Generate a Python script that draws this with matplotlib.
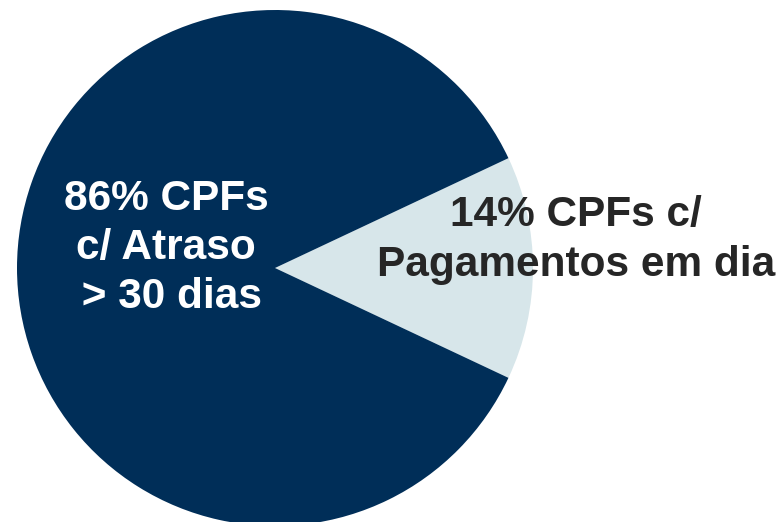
import matplotlib.pyplot as plt

# dados do gráfico
shares = [14, 86]
labels = ['14% CPFs c/\nPagamentos em dia', '86% CPFs\nc/ Atraso\n > 30 dias']
colors = ['#D7E6EA', '#002E58']
text_colors = ['#262626', 'white']

plt.rcParams['font.family'] = ['Liberation Sans', 'DejaVu Sans']

fig = plt.figure(figsize=(7.8, 5.22), dpi=100)
ax = fig.add_axes([0, 0, 1, 1])

# fatia clara centrada à direita
start = -shares[0] / 100 * 360 / 2
wedges, _ = ax.pie(shares, colors=colors, startangle=start, counterclock=True,
                   center=(275, 254), radius=258, frame=True)

# posições dos rótulos (pixels)
label_pos = [(576, 240), (166, 248)]
for lab, (x, y), c in zip(labels, label_pos, text_colors):
    ax.text(x, 522 - y, lab, ha='center', va='center', color=c,
            fontsize=30.5, fontweight='bold', linespacing=1.3)

ax.set_xlim(0, 780)
ax.set_ylim(0, 522)
ax.set_aspect('equal')
ax.axis('off')

fig.savefig('out.png', dpi=100)
